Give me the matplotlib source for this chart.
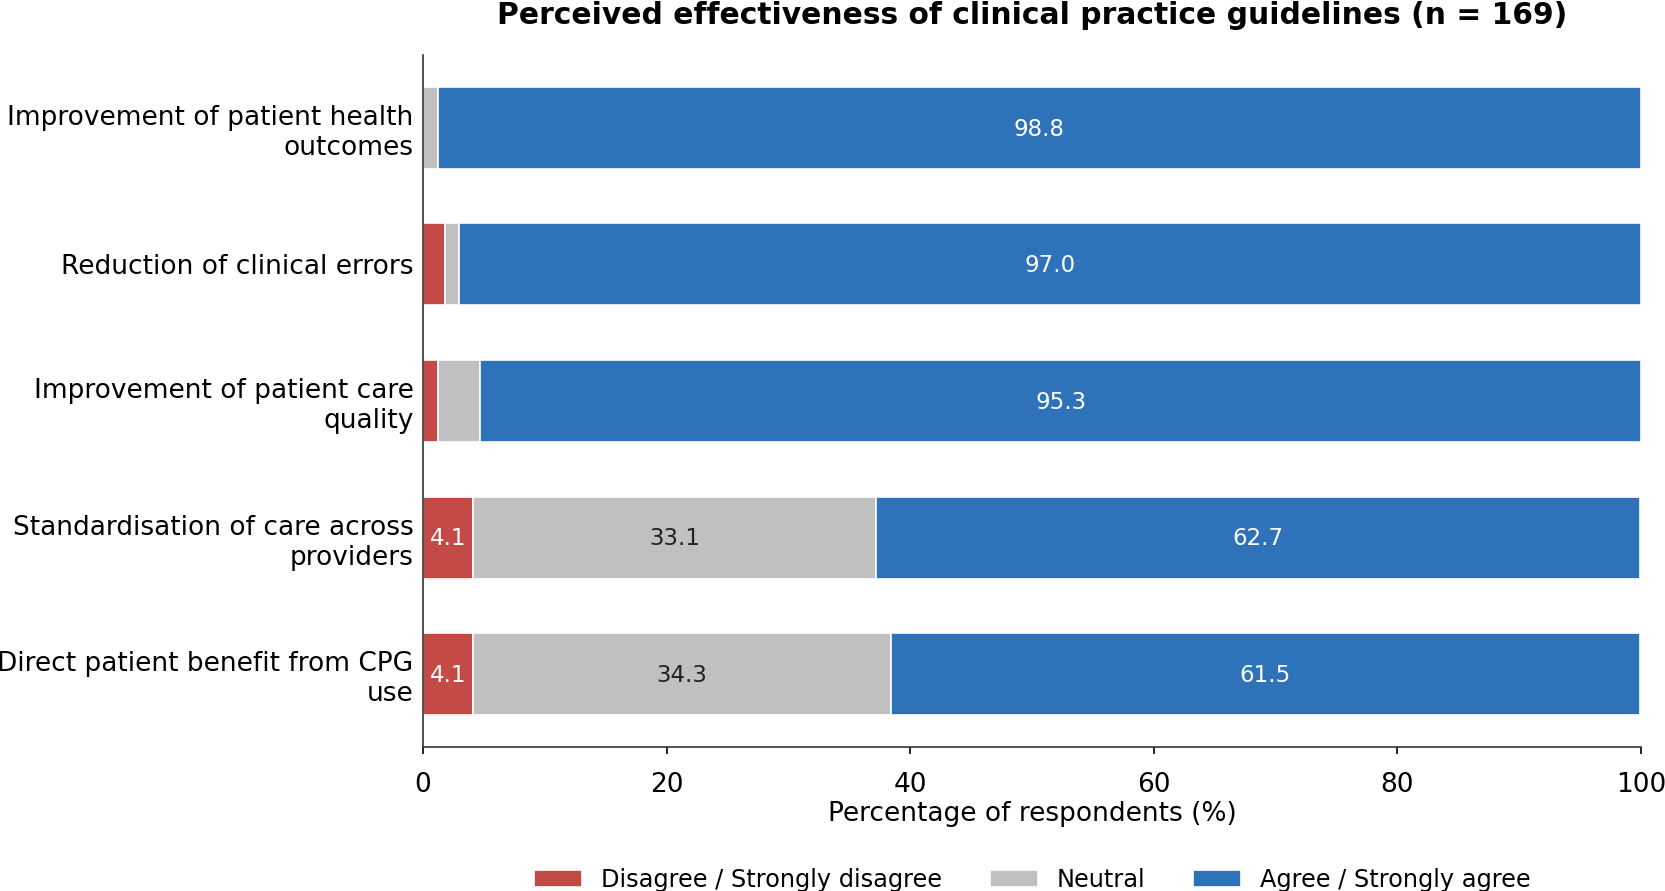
import matplotlib
matplotlib.use("Agg")
import matplotlib.pyplot as plt
import numpy as np

categories = [
    "Improvement of patient health\noutcomes",
    "Reduction of clinical errors",
    "Improvement of patient care\nquality",
    "Standardisation of care across\nproviders",
    "Direct patient benefit from CPG\nuse",
]
disagree = [0.0, 1.8, 1.2, 4.1, 4.1]
neutral = [1.2, 1.2, 3.5, 33.1, 34.3]
agree = [98.8, 97.0, 95.3, 62.7, 61.5]

series_names = ["Disagree / Strongly disagree", "Neutral", "Agree / Strongly agree"]
colors = ["#c44a45", "#c0c0c0", "#2e72ba"]
text_colors = ["white", "#222222", "white"]

fig = plt.figure(figsize=(11.1, 5.94), dpi=150)
ax = fig.add_axes([0.254, 0.162, 0.7316, 0.776])

y = np.arange(len(categories))
left = np.zeros(len(categories))
for name, vals, col, tcol in zip(series_names, [disagree, neutral, agree], colors, text_colors):
    vals = np.array(vals)
    bars = ax.barh(y, vals, left=left, height=0.6, color=col,
                   edgecolor="white", linewidth=0.8, label=name)
    for b, v, l in zip(bars, vals, left):
        if v >= 4:
            ax.text(l + v / 2, b.get_y() + b.get_height() / 2 + 0.01, f"{v:.1f}",
                    ha="center", va="center", color=tcol, fontsize=11)
    left = left + vals

ax.set_yticks(y)
ax.set_yticklabels(categories, fontsize=12.65)
ax.invert_yaxis()
ax.set_xlim(0, 100)
ax.tick_params(axis="x", labelsize=12.65, pad=8.5)
ax.tick_params(axis="y", length=0, pad=4.5)
ax.set_xlabel("Percentage of respondents (%)", fontsize=12.65, labelpad=1.5)
ax.set_title("Perceived effectiveness of clinical practice guidelines (n = 169)",
             fontsize=14.3, fontweight="bold", pad=15)
for s in ["top", "right"]:
    ax.spines[s].set_visible(False)
ax.spines["left"].set_color("#333333")
ax.spines["bottom"].set_color("#333333")

fig.legend(loc="lower center", bbox_to_anchor=(0.62, -0.025), ncol=3,
           frameon=False, fontsize=11.5)

fig.savefig("out.png", dpi=150)
